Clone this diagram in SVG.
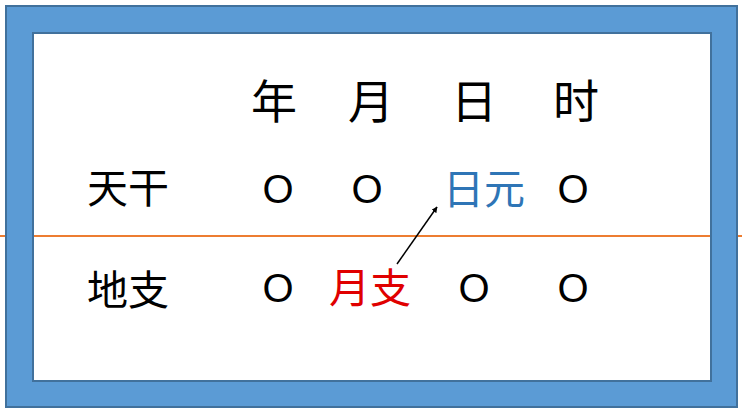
<svg xmlns="http://www.w3.org/2000/svg" width="742" height="414" viewBox="0 0 742 414">
<style>
.cjk{font-family:"Noto Sans CJK SC","Noto Sans",sans-serif;text-anchor:middle;fill:#000}
.h{font-size:46px}
.r{font-size:41px}
.o{font-family:"Liberation Sans",Arial,sans-serif;font-size:40px;text-anchor:middle;fill:#000}
</style>
<defs>
<marker id="ah" viewBox="0 0 10 10" refX="9" refY="5" markerWidth="6" markerHeight="6" orient="auto" markerUnits="userSpaceOnUse">
<path d="M0,0 L10,5 L0,10 z" fill="#000"/>
</marker>
</defs>
<rect width="742" height="414" fill="#fff"/>
<line x1="0" y1="236" x2="742" y2="236" stroke="#ed7d31" stroke-width="2"/>
<path id="frame" d="M6,6 H737 V407 H6 Z M33,33 V381 H711 V33 Z" fill="#5b9bd5" fill-rule="evenodd" stroke="#41719c" stroke-width="2"/>
<g id="headers">
<text class="cjk h" x="274" y="118">年</text>
<text class="cjk h" x="371" y="118">月</text>
<text class="cjk h" x="474" y="118">日</text>
<text class="cjk h" x="576" y="118">时</text>
</g>
<g id="row-tiangan">
<text class="cjk r" x="128" y="203">天干</text>
<text class="o" x="278" y="203">O</text>
<text class="o" x="367" y="203">O</text>
<text class="cjk r" x="484" y="204" style="fill:#2e75b6">日元</text>
<text class="o" x="573" y="203">O</text>
</g>
<g id="row-dizhi">
<text class="cjk r" x="128" y="305">地支</text>
<text class="o" x="278" y="302">O</text>
<text class="cjk r" x="370" y="303" style="fill:#e00000">月支</text>
<text class="o" x="474" y="302">O</text>
<text class="o" x="573" y="302">O</text>
</g>
<g id="connectors">
<line x1="397" y1="264" x2="437" y2="207" stroke="#000" stroke-width="1.5" marker-end="url(#ah)"/>
</g>
</svg>
